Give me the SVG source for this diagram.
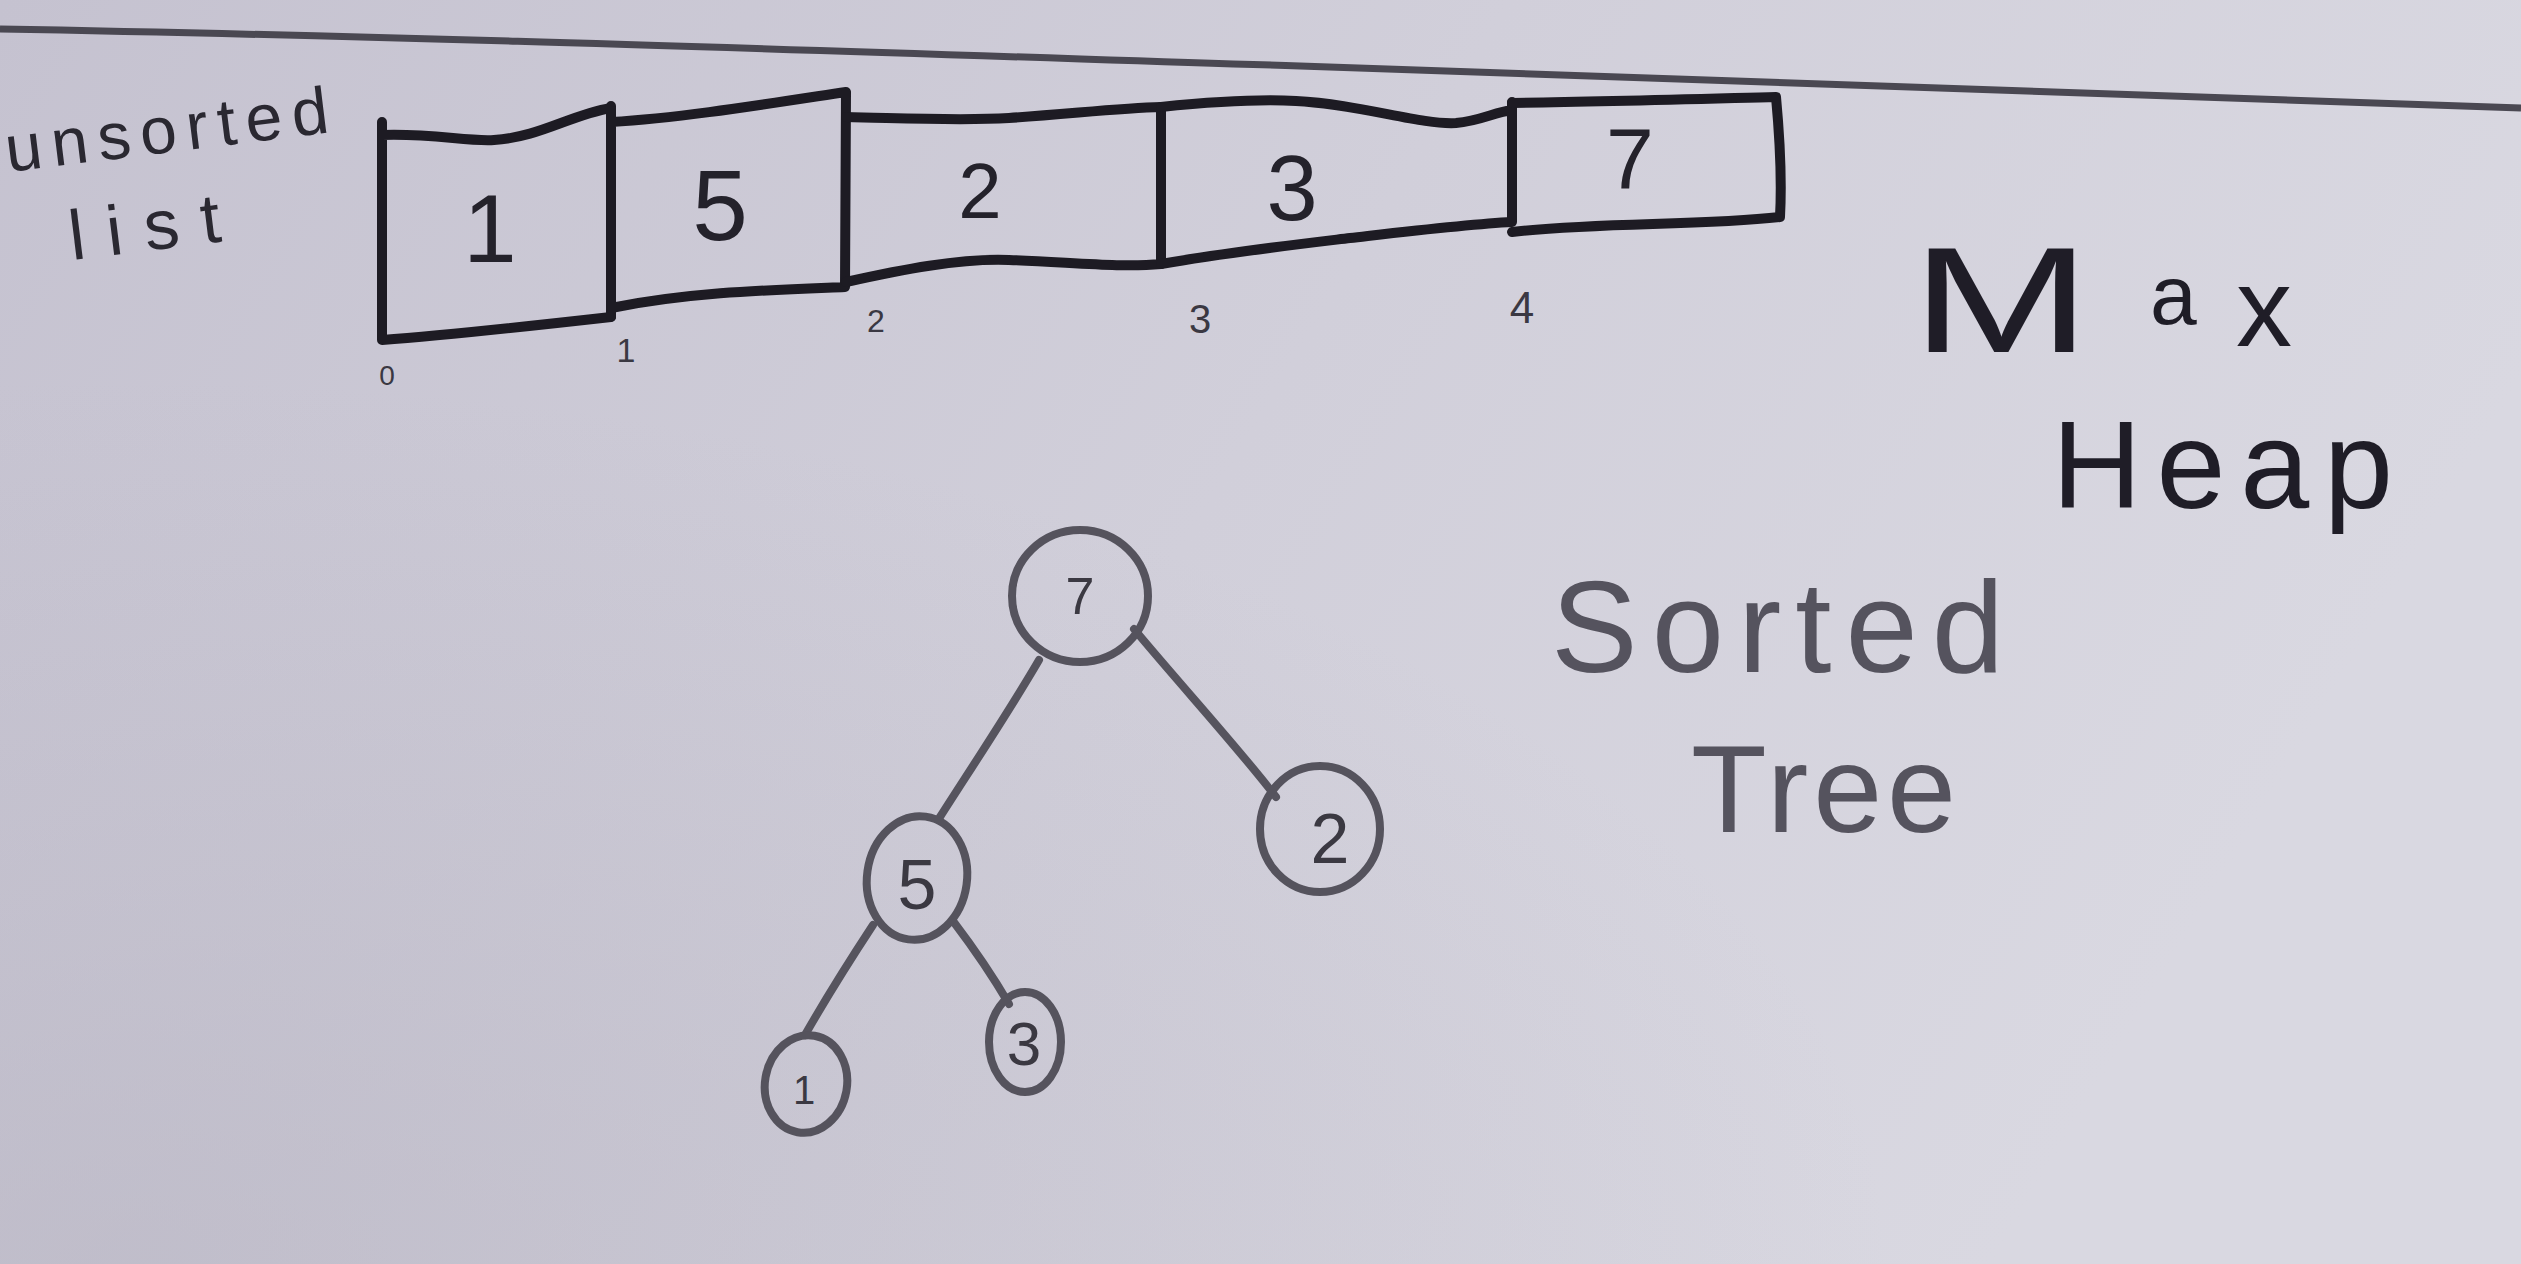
<svg xmlns="http://www.w3.org/2000/svg" width="2521" height="1264" viewBox="0 0 2521 1264">
<defs>
<linearGradient id="paper" x1="0" y1="0" x2="1" y2="0.3">
<stop offset="0" stop-color="#c5c2d0"/>
<stop offset="0.55" stop-color="#d1cfda"/>
<stop offset="1" stop-color="#d9d8e1"/>
</linearGradient>
<radialGradient id="shade" cx="0.05" cy="1" r="0.7">
<stop offset="0" stop-color="#b4b1bf" stop-opacity="0.5"/>
<stop offset="1" stop-color="#b4b1bf" stop-opacity="0"/>
</radialGradient>
<style>
.cell{fill:none;stroke:#1d1b23;stroke-width:10;stroke-linejoin:round;stroke-linecap:round}
.num{font-family:"Liberation Sans",Arial,sans-serif;fill:#24222b;text-anchor:middle}
.idx{font-family:"Liberation Sans",Arial,sans-serif;fill:#3a3842;text-anchor:middle}
.node{fill:none;stroke:#55535d;stroke-width:8}
.nlab{font-family:"Liberation Sans",Arial,sans-serif;fill:#3b3942;text-anchor:middle}
.edge{stroke:#56545e;stroke-width:8;stroke-linecap:round;fill:none}
.hand{font-family:"Liberation Sans",Arial,sans-serif}
</style>
</defs>
<rect width="2521" height="1264" fill="url(#paper)"/>
<rect width="2521" height="1264" fill="url(#shade)"/>
<path d="M0,29 C400,36 800,50 1300,66 C1700,78 2100,92 2521,108" fill="none" stroke="#4a4852" stroke-width="7"/>

<g id="label-unsorted-list" class="hand" fill="#2a2831">
<text x="8" y="172" font-size="66" textLength="325" lengthAdjust="spacing" transform="rotate(-7 8 172)">unsorted</text>
<text x="72" y="260" font-size="70" textLength="152" lengthAdjust="spacing" transform="rotate(-7 72 260)">list</text>
</g>

<g id="cell-0">
<path class="cell" d="M382,122 L382,340 C450,335 540,325 611,317 M382,135 C430,133 470,142 494,140 C540,137 570,115 611,108"/>
<text class="num" x="490" y="262" font-size="96">1</text>
<text class="idx" x="387" y="385" font-size="28">0</text>
</g>
<g id="cell-1">
<path class="cell" d="M611,106 L611,317 M611,122 C680,118 760,105 846,92 M611,308 C690,292 770,290 845,287 L846,92"/>
<text class="num" x="720" y="240" font-size="100">5</text>
<text class="idx" x="626" y="362" font-size="34">1</text>
</g>
<g id="cell-2">
<path class="cell" d="M846,117 C900,118 960,121 1009,118 C1070,114 1120,108 1161,107 M846,282 C900,270 960,258 1009,260 C1070,262 1120,268 1161,264 L1161,107"/>
<text class="num" x="980" y="218" font-size="78">2</text>
<text class="idx" x="876" y="332" font-size="32">2</text>
</g>
<g id="cell-3">
<path class="cell" d="M1161,107 C1210,102 1260,99 1296,101 C1360,104 1420,125 1456,123 C1480,121 1495,112 1512,110 M1161,264 C1230,252 1300,244 1350,238 C1420,230 1470,224 1512,222 L1512,102"/>
<text class="num" x="1292" y="220" font-size="92">3</text>
<text class="idx" x="1200" y="333" font-size="40">3</text>
</g>
<g id="cell-4">
<path class="cell" d="M1512,103 C1600,102 1700,99 1776,97 C1780,140 1782,180 1780,217 C1700,226 1600,222 1512,232"/>
<text class="num" x="1630" y="188" font-size="86">7</text>
<text class="idx" x="1522" y="323" font-size="44">4</text>
</g>

<g id="connectors">
<path class="edge" d="M1039,660 C1010,710 970,770 940,817"/>
<path class="edge" d="M1134,629 C1185,690 1240,750 1276,797"/>
<path class="edge" d="M873,925 C850,960 825,1000 805,1035"/>
<path class="edge" d="M953,921 C975,950 995,980 1009,1004"/>
</g>

<g id="node-7">
<ellipse class="node" cx="1080" cy="596" rx="68" ry="66"/>
<text class="nlab" x="1080" y="614" font-size="52">7</text>
</g>
<g id="node-5">
<ellipse class="node" cx="917" cy="878" rx="50" ry="62" transform="rotate(8 917 878)"/>
<text class="nlab" x="917" y="909" font-size="70">5</text>
</g>
<g id="node-2">
<ellipse class="node" cx="1320" cy="829" rx="60" ry="63"/>
<text class="nlab" x="1330" y="863" font-size="70">2</text>
</g>
<g id="node-1">
<ellipse class="node" cx="806" cy="1084" rx="41" ry="49" transform="rotate(10 806 1084)"/>
<text class="nlab" x="804" y="1104" font-size="40">1</text>
</g>
<g id="node-3">
<ellipse class="node" cx="1025" cy="1042" rx="36" ry="50"/>
<text class="nlab" x="1024" y="1065" font-size="62">3</text>
</g>

<g id="label-max-heap" class="hand" fill="#1f1d27">
<text y="352"><tspan x="1911" font-size="150" textLength="180" lengthAdjust="spacingAndGlyphs">M</tspan><tspan x="2150" y="324" font-size="84">a</tspan><tspan x="2236" y="346" font-size="112">x</tspan></text>
<text x="2052" y="508" font-size="124" textLength="341" lengthAdjust="spacing">Heap</text>
</g>
<g id="label-sorted-tree" class="hand" fill="#55535e">
<text x="1551" y="672" font-size="130" textLength="453" lengthAdjust="spacing">Sorted</text>
<text x="1691" y="832" font-size="124" textLength="265" lengthAdjust="spacing">Tree</text>
</g>
</svg>
